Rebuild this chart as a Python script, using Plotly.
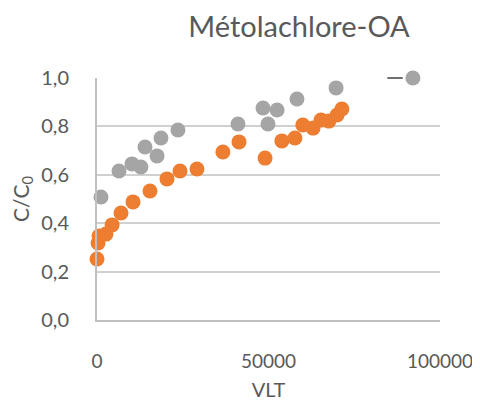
import plotly.graph_objects as go

# Orange series
orange_x = [0, 300, 600, 2600, 4400, 7000, 10500, 15450, 20400, 24200, 29150, 36700,
            41400, 49000, 53900, 57700, 60000, 63000, 65300, 67600, 70000, 71400]
orange_y = [0.252, 0.318, 0.347, 0.355, 0.393, 0.442, 0.488, 0.533, 0.583, 0.616, 0.624, 0.694,
            0.736, 0.669, 0.740, 0.752, 0.806, 0.793, 0.826, 0.822, 0.847, 0.872]

# Gray series
gray_x = [1170, 6410, 10200, 12800, 14000, 17500, 18650, 23600, 41100, 48400, 49850,
          52500, 58300, 69700, 92100]
gray_y = [0.508, 0.616, 0.645, 0.632, 0.715, 0.678, 0.752, 0.785, 0.81, 0.876, 0.81,
          0.868, 0.913, 0.959, 1.0]

# Small dash mark
dash_x = [86900]
dash_y = [1.0]

title_text = "Métolachlore-OA"
x_title = "VLT"
y_title = "C/C<sub>0</sub>"
x_ticks = [0, 50000, 100000]
y_ticks = [0.0, 0.2, 0.4, 0.6, 0.8, 1.0]

FONT = "Lato, Carlito, Calibri, sans-serif"
TXT = "#595959"

fig = go.Figure()
fig.add_trace(go.Scatter(x=orange_x, y=orange_y, mode="markers", cliponaxis=False,
                         marker=dict(color="#ED7D31", size=15, line=dict(width=0)),
                         showlegend=False))
fig.add_trace(go.Scatter(x=gray_x, y=gray_y, mode="markers", cliponaxis=False,
                         marker=dict(color="#A5A5A5", size=15, line=dict(width=0)),
                         showlegend=False))
fig.add_trace(go.Scatter(x=dash_x, y=dash_y, mode="markers", cliponaxis=False,
                         marker=dict(symbol="line-ew", size=11, color="#404040",
                                     line=dict(width=1.5, color="#404040")),
                         showlegend=False))

W, H = 472, 396
fig.update_layout(
    width=W, height=H,
    margin=dict(l=89, r=40, t=70, b=84),
    paper_bgcolor="white", plot_bgcolor="white",
    font=dict(family=FONT, color=TXT, size=20),
    separators=",.",
    title=dict(text=title_text, x=291/W, xanchor="center", y=1-19/H, yanchor="middle",
               font=dict(family=FONT, size=29, color=TXT)),
    xaxis=dict(range=[0, 100000], tickvals=x_ticks, tickformat="d", automargin=False,
               showgrid=False, zeroline=False,
               showline=True, linecolor="#BFBFBF", linewidth=2,
               ticks="", ticklabelstandoff=23,
               title=dict(text=x_title, standoff=12, font=dict(size=20)),
               tickfont=dict(size=19)),
    yaxis=dict(range=[0, 1.0], tickvals=y_ticks, tickformat=".1f", automargin=False,
               showgrid=True, gridcolor="#D0D0D0", gridwidth=2,
               zeroline=False, showline=True, linecolor="#BFBFBF", linewidth=2,
               ticks="", ticklabelstandoff=22,
               title=dict(text=y_title, standoff=12, font=dict(size=21)),
               tickfont=dict(size=20)),
)

fig.write_html("out.html")
